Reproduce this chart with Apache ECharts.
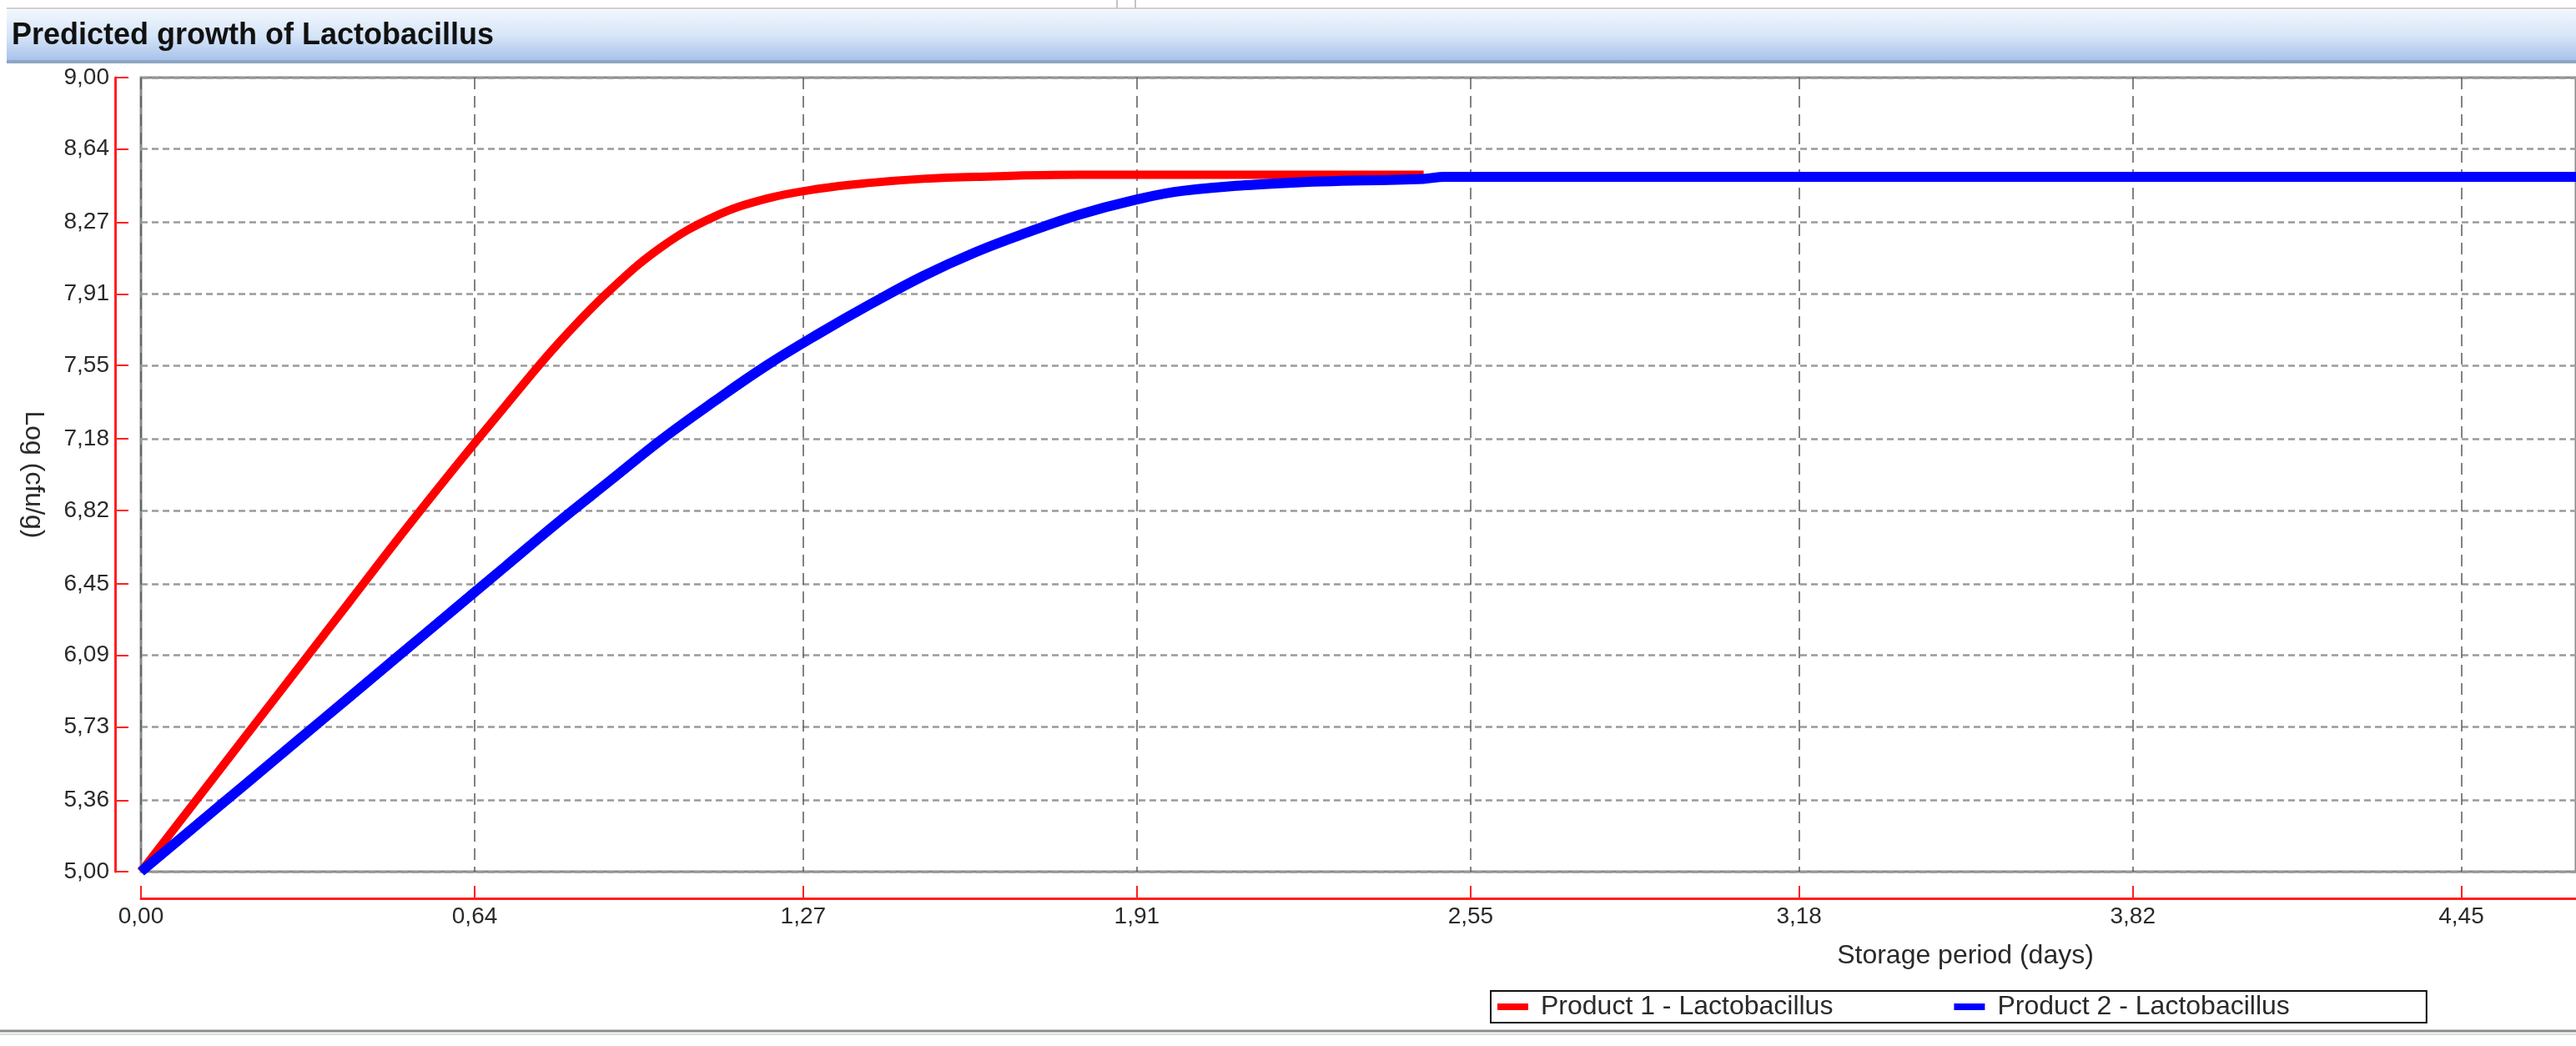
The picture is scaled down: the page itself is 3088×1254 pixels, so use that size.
<!DOCTYPE html>
<html>
<head>
<meta charset="utf-8">
<title>Predicted growth of Lactobacillus</title>
<script src="https://cdn.jsdelivr.net/npm/echarts@6/dist/echarts.min.js"></script>
<style>
  html, body { margin: 0; padding: 0; background: #fff; }
  #chart { width: 3088px; height: 1254px; }
</style>
</head>
<body>
<div id="chart"></div>
<script>
// 数据
const seriesNames = ['Product 1 - Lactobacillus', 'Product 2 - Lactobacillus']
const product1Days = [0, 0.1, 0.2, 0.3, 0.4, 0.5, 0.6, 0.7, 0.8, 0.9, 1.0, 1.1, 1.2, 1.3, 1.4, 1.5, 1.6, 1.8, 2.0, 2.2, 2.46]
const product1Log = [5.00, 5.34, 5.68, 6.02, 6.36, 6.70, 7.03, 7.35, 7.66, 7.93, 8.15, 8.30, 8.39, 8.44, 8.47, 8.49, 8.50, 8.51, 8.51, 8.51, 8.51]
const product2Days = [0, 0.1, 0.2, 0.3, 0.4, 0.5, 0.6, 0.7, 0.8, 0.9, 1.0, 1.1, 1.2, 1.3, 1.4, 1.5, 1.6, 1.7, 1.8, 1.9, 2.0, 2.2, 2.46, 2.5, 4.7]
const product2Log = [5.00, 5.22, 5.44, 5.66, 5.88, 6.10, 6.32, 6.54, 6.76, 6.97, 7.18, 7.37, 7.55, 7.71, 7.86, 8.00, 8.12, 8.22, 8.31, 8.38, 8.43, 8.47, 8.49, 8.50, 8.50]
const xTicks = [0, 0.64, 1.27, 1.91, 2.55, 3.18, 3.82, 4.45]
const yTicks = [5.00, 5.36, 5.73, 6.09, 6.45, 6.82, 7.18, 7.55, 7.91, 8.27, 8.64, 9.00]

const fontFamily = '"Liberation Sans", Arial, sans-serif'
const axisRed = '#ff1f1f'
const fmt = v => v.toFixed(2).replace('.', ',')
const pairs = (xs, ys) => xs.map((x, i) => [x, ys[i]])

const myChart = echarts.init(document.getElementById('chart'))
myChart.setOption({
  animation: false,
  backgroundColor: '#fff',
  title: {
    text: 'Predicted growth of Lactobacillus',
    left: 14,
    top: 25,
    padding: 0,
    textStyle: {
      color: '#111',
      fontSize: 36,
      fontWeight: 'bold',
      fontFamily: fontFamily
    }
  },
  // 顶部标题栏和底部分隔线
  graphic: [
    {
      type: 'rect',
      z: -10,
      shape: { x: 8, y: 12, width: 3080, height: 62 },
      style: {
        fill: new echarts.graphic.LinearGradient(0, 0, 0, 1, [
          { offset: 0, color: '#f1f6fd' },
          { offset: 0.5, color: '#d6e5f8' },
          { offset: 1, color: '#a5c1e9' }
        ])
      }
    },
    { type: 'rect', z: -9, shape: { x: 8, y: 72, width: 3080, height: 4 }, style: { fill: '#8ea6c4' } },
    { type: 'line', z: -9, shape: { x1: 8, y1: 10, x2: 3088, y2: 10 }, style: { stroke: '#d0d0d0', lineWidth: 2 } },
    { type: 'line', z: -9, shape: { x1: 1339, y1: 0, x2: 1339, y2: 10 }, style: { stroke: '#c4c4c4', lineWidth: 2 } },
    { type: 'line', z: -9, shape: { x1: 1361, y1: 0, x2: 1361, y2: 10 }, style: { stroke: '#c4c4c4', lineWidth: 2 } },
    { type: 'line', z: -9, shape: { x1: 0, y1: 1236, x2: 3088, y2: 1236 }, style: { stroke: '#8c8c8c', lineWidth: 3 } },
    { type: 'line', z: -9, shape: { x1: 0, y1: 1240, x2: 3088, y2: 1240 }, style: { stroke: '#dcdcdc', lineWidth: 2 } },
    {
      type: 'text',
      x: 2356,
      y: 1146,
      style: {
        text: 'Storage period (days)',
        fill: '#2a2a2a',
        font: '32px ' + fontFamily,
        align: 'center',
        verticalAlign: 'middle'
      }
    }
  ],
  legend: {
    left: 1787,
    top: 1188,
    data: seriesNames,
    icon: 'rect',
    itemWidth: 37,
    itemHeight: 8,
    itemGap: 145,
    padding: [3, 164, 3, 8],
    borderColor: '#111',
    borderWidth: 2,
    textStyle: {
      color: '#2a2a2a',
      fontSize: 32,
      fontFamily: fontFamily,
      padding: [0, 0, 0, 10]
    }
  },
  grid: {
    left: 169,
    top: 93,
    right: -6,
    bottom: 209,
    show: true,
    backgroundColor: '#fff',
    borderColor: '#8a8a8a',
    borderWidth: 3
  },
  xAxis: {
    type: 'value',
    min: 0,
    max: 4.67,
    offset: 32,
    axisLine: {
      show: true,
      onZero: false,
      lineStyle: { color: axisRed, width: 3 }
    },
    axisTick: {
      show: true,
      inside: true,
      length: 15,
      customValues: xTicks,
      lineStyle: { color: axisRed, width: 2 }
    },
    axisLabel: {
      customValues: xTicks,
      margin: 8,
      formatter: fmt,
      color: '#2a2a2a',
      fontSize: 28,
      fontFamily: fontFamily
    },
    splitLine: {
      show: true,
      lineStyle: { color: '#5a5a5a', width: 1.5, type: [14, 8] }
    }
  },
  yAxis: {
    type: 'value',
    min: 5,
    max: 9,
    offset: 31,
    name: 'Log (cfu/g)',
    nameLocation: 'middle',
    nameRotate: -90,
    nameGap: 82,
    nameTextStyle: {
      color: '#2a2a2a',
      fontSize: 32,
      fontFamily: fontFamily
    },
    axisLine: {
      show: true,
      onZero: false,
      lineStyle: { color: axisRed, width: 3 }
    },
    axisTick: {
      show: true,
      inside: true,
      length: 16,
      customValues: yTicks,
      lineStyle: { color: axisRed, width: 2 }
    },
    axisLabel: {
      customValues: yTicks,
      margin: 7,
      formatter: fmt,
      color: '#2a2a2a',
      fontSize: 28,
      fontFamily: fontFamily
    },
    splitLine: {
      show: true,
      lineStyle: { color: '#9a9a9a', width: 2.5, type: [8, 5] }
    }
  },
  series: [
    {
      name: seriesNames[0],
      type: 'line',
      smooth: 0.4,
      showSymbol: false,
      itemStyle: { color: '#ff0000' },
      lineStyle: { color: '#ff0000', width: 10 },
      data: pairs(product1Days, product1Log)
    },
    {
      name: seriesNames[1],
      type: 'line',
      smooth: 0.4,
      showSymbol: false,
      itemStyle: { color: '#0000ff' },
      lineStyle: { color: '#0000ff', width: 12 },
      data: pairs(product2Days, product2Log)
    }
  ]
})
</script>
</body>
</html>
